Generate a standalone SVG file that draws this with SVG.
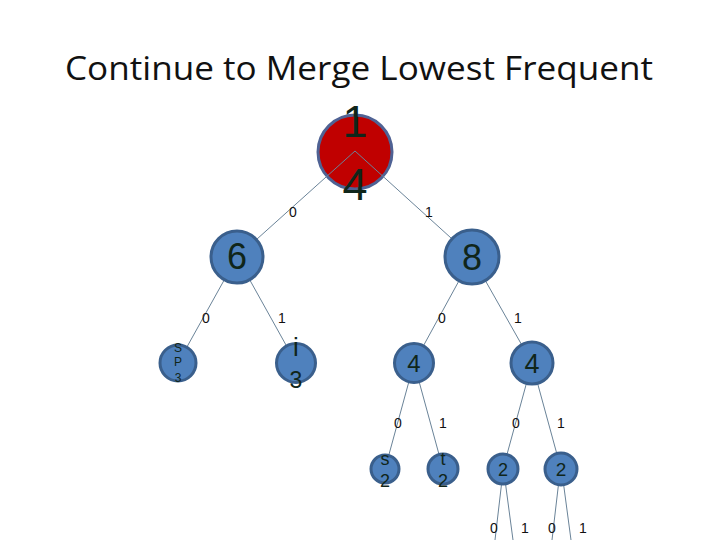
<svg xmlns="http://www.w3.org/2000/svg" width="720" height="540" viewBox="0 0 720 540">
<style>
.n{fill:#4F81BD;stroke:#3A5F8C;stroke-width:3}
.r{fill:#C00000;stroke:#4F6294;stroke-width:3}
.t{font-family:"Liberation Sans",Arial,sans-serif;fill:#10261A;text-anchor:middle}
.e{font-family:"Liberation Sans",Arial,sans-serif;fill:#111;font-size:14px;text-anchor:middle}
.c line{stroke:#6A8398;stroke-width:1}
</style>
<rect width="720" height="540" fill="#fff"/>
<text x="359" y="80" font-family="Open Sans,Liberation Sans,sans-serif" font-size="33" fill="#111" text-anchor="middle" textLength="588" lengthAdjust="spacingAndGlyphs">Continue to Merge Lowest Frequent</text>
<g id="root">
<circle class="r" cx="355" cy="152" r="37"/>
<text class="t" x="355" y="137" font-size="45">1</text>
<text class="t" x="355" y="200" font-size="45">4</text>
</g>
<g id="connectors" class="c">
<line x1="355" y1="151" x2="237" y2="257"/>
<line x1="355" y1="151" x2="472" y2="257"/>
<line x1="237" y1="257" x2="178" y2="363"/>
<line x1="237" y1="257" x2="296" y2="363"/>
<line x1="472" y1="257" x2="414" y2="363"/>
<line x1="472" y1="257" x2="532" y2="363"/>
<line x1="414" y1="363" x2="385" y2="469"/>
<line x1="414" y1="363" x2="443" y2="469"/>
<line x1="532" y1="363" x2="503" y2="469"/>
<line x1="532" y1="363" x2="561" y2="469"/>
<line x1="502" y1="480" x2="495" y2="540"/>
<line x1="505" y1="480" x2="513" y2="540"/>
<line x1="559" y1="480" x2="552" y2="540"/>
<line x1="563" y1="480" x2="571" y2="540"/>
<text class="e" x="293" y="217">0</text>
<text class="e" x="429" y="217">1</text>
<text class="e" x="206" y="323">0</text>
<text class="e" x="282" y="323">1</text>
<text class="e" x="442" y="323">0</text>
<text class="e" x="518" y="323">1</text>
<text class="e" x="398" y="428">0</text>
<text class="e" x="443" y="428">1</text>
<text class="e" x="516" y="428">0</text>
<text class="e" x="561" y="428">1</text>
<text class="e" x="494" y="533">0</text>
<text class="e" x="525" y="533">1</text>
<text class="e" x="552" y="533">0</text>
<text class="e" x="583" y="533">1</text>
</g>
<g id="n6">
<circle class="n" cx="237" cy="257" r="26"/>
<text class="t" x="237" y="269" font-size="36">6</text>
</g>
<g id="n8">
<circle class="n" cx="472" cy="257" r="27"/>
<text class="t" x="472" y="270" font-size="36">8</text>
</g>
<g id="nsp3">
<circle class="n" cx="178" cy="363" r="18"/>
<text class="t" x="178" y="352" font-size="12">S</text>
<text class="t" x="178" y="366" font-size="12">P</text>
<text class="t" x="178" y="382" font-size="12">3</text>
</g>
<g id="ni3">
<circle class="n" cx="296" cy="363" r="19.5"/>
<text class="t" x="296" y="356" font-size="26">i</text>
<text class="t" x="296" y="388" font-size="23">3</text>
</g>
<g id="n4a">
<circle class="n" cx="414" cy="363" r="19.5"/>
<text class="t" x="414" y="372" font-size="24">4</text>
</g>
<g id="n4b">
<circle class="n" cx="532" cy="363" r="21"/>
<text class="t" x="532" y="373" font-size="27">4</text>
</g>
<g id="ns2">
<circle class="n" cx="385" cy="469" r="14"/>
<text class="t" x="385" y="465" font-size="18">s</text>
<text class="t" x="385" y="487" font-size="18">2</text>
</g>
<g id="nt2">
<circle class="n" cx="443" cy="469" r="15"/>
<text class="t" x="443" y="465" font-size="18">t</text>
<text class="t" x="443" y="487" font-size="18">2</text>
</g>
<g id="n2a">
<circle class="n" cx="503" cy="469" r="15"/>
<text class="t" x="503" y="476" font-size="18">2</text>
</g>
<g id="n2b">
<circle class="n" cx="561" cy="469" r="16"/>
<text class="t" x="561" y="476" font-size="19">2</text>
</g>
</svg>
